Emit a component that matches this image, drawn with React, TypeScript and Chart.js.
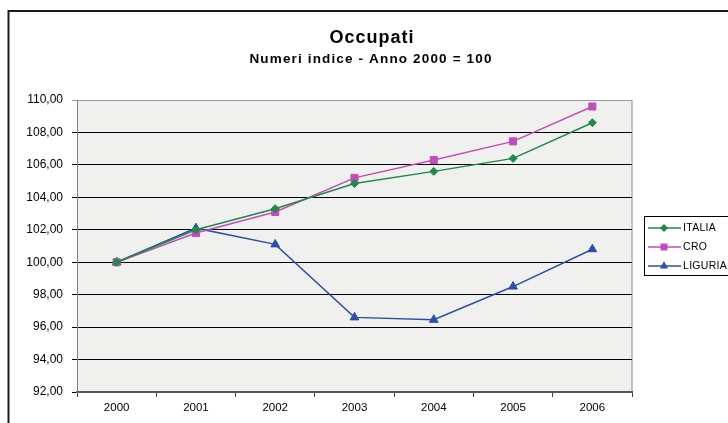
import React, { useEffect, useRef } from "react";
import { Chart, registerables } from "chart.js";

Chart.register(...registerables);

const years = ["2000", "2001", "2002", "2003", "2004", "2005", "2006"];
const italia = [100, 102.0, 103.3, 104.85, 105.6, 106.4, 108.6];
const cro = [100, 101.8, 103.1, 105.2, 106.3, 107.45, 109.6];
const liguria = [100, 102.1, 101.1, 96.6, 96.45, 98.5, 100.8];
const seriesNames = ["ITALIA", "CRO", "LIGURIA"];
const seriesColors = ["#1f8a47", "#c24fb6", "#2e4fa6"];
const seriesMarkers = ["rectRot", "rect", "triangle"];
const titleText = "Occupati";
const subtitleText = "Numeri indice - Anno 2000 = 100";

const FONT = "'Liberation Sans', Arial, sans-serif";

function drawMarker(ctx: CanvasRenderingContext2D, style: string, x: number, y: number, color: string) {
  ctx.save();
  ctx.fillStyle = color;
  ctx.strokeStyle = color;
  ctx.beginPath();
  if (style === "rectRot") {
    const r = 4;
    ctx.moveTo(x, y - r);
    ctx.lineTo(x + r, y);
    ctx.lineTo(x, y + r);
    ctx.lineTo(x - r, y);
  } else if (style === "rect") {
    const h = 3.5;
    ctx.rect(x - h, y - h, 2 * h, 2 * h);
  } else {
    const r = 4.8;
    ctx.moveTo(x, y - r);
    ctx.lineTo(x + r * 0.866, y + r * 0.5);
    ctx.lineTo(x - r * 0.866, y + r * 0.5);
  }
  ctx.closePath();
  ctx.fill();
  ctx.restore();
}

const decorPlugin = {
  id: "decor",
  beforeDraw(chart: any) {
    const { ctx, chartArea } = chart;
    ctx.save();
    ctx.fillStyle = "#ffffff";
    ctx.fillRect(0, 0, chart.width, chart.height);
    // outer frame
    ctx.strokeStyle = "#1a1a1a";
    ctx.lineWidth = 2;
    ctx.strokeRect(8.5, 11, 800, 500);
    // plot background
    ctx.fillStyle = "#f0f0ee";
    ctx.fillRect(chartArea.left, chartArea.top, chartArea.right - chartArea.left, chartArea.bottom - chartArea.top);
    ctx.strokeStyle = "#8c8c8c";
    ctx.lineWidth = 1;
    ctx.strokeRect(chartArea.left + 0.5, chartArea.top + 0.5, chartArea.right - chartArea.left - 0.5, chartArea.bottom - chartArea.top - 0.5);
    // titles
    ctx.fillStyle = "#000";
    ctx.textAlign = "center";
    ctx.textBaseline = "alphabetic";
    ctx.font = `bold 18px ${FONT}`;
    (ctx as any).letterSpacing = "1px";
    ctx.fillText(titleText, 372, 42.5);
    ctx.font = `bold 13.5px ${FONT}`;
    (ctx as any).letterSpacing = "1.15px";
    ctx.fillText(subtitleText, 371, 62.5);
    (ctx as any).letterSpacing = "0px";
    ctx.restore();
  },
  afterDraw(chart: any) {
    const { ctx } = chart;
    ctx.save();
    // legend box
    ctx.strokeStyle = "#000";
    ctx.lineWidth = 1;
    ctx.strokeRect(644.5, 216.5, 100, 59);
    const rows = [228, 247, 266];
    chart.data.datasets.forEach((ds: any, i: number) => {
      const y = rows[i];
      ctx.strokeStyle = ds.borderColor;
      ctx.lineWidth = 1.5;
      ctx.beginPath();
      ctx.moveTo(648, y);
      ctx.lineTo(681, y);
      ctx.stroke();
      drawMarker(ctx, ds.pointStyle, 664, y, ds.borderColor);
      ctx.fillStyle = "#000";
      ctx.font = `10.5px ${FONT}`;
      (ctx as any).letterSpacing = "0.3px";
      ctx.textAlign = "left";
      ctx.textBaseline = "middle";
      ctx.fillText(ds.label, 683, y + 0.5);
      (ctx as any).letterSpacing = "0px";
    });
    ctx.restore();
  },
};

export default function App() {
  const ref = useRef<HTMLCanvasElement | null>(null);
  useEffect(() => {
    if (!ref.current) return;
    const values = [italia, cro, liguria];
    const chart = new Chart(ref.current, {
      type: "line",
      data: {
        labels: years,
        datasets: values.map((v, i) => ({
          label: seriesNames[i],
          data: v,
          borderColor: seriesColors[i],
          backgroundColor: seriesColors[i],
          borderWidth: 1.5,
          pointStyle: seriesMarkers[i] as any,
          pointRadius: i === 1 ? 5 : i === 2 ? 5 : 4,
          pointBorderWidth: 1,
          tension: 0,
          fill: false,
        })),
      },
      options: {
        animation: false,
        responsive: false,
        devicePixelRatio: 1,
        layout: { padding: { left: 0, right: 96, top: 100, bottom: 0 } },
        plugins: {
          legend: { display: false },
          title: { display: false },
          tooltip: { enabled: false },
        },
        scales: {
          x: {
            type: "category",
            offset: true,
            grid: {
              offset: true,
              drawOnChartArea: false,
              drawTicks: true,
              tickLength: 5,
              color: "#404040",
            },
            border: { display: true, color: "#555555", width: 2 },
            ticks: {
              color: "#000",
              font: { family: FONT, size: 11.5 },
              padding: 4,
              maxRotation: 0,
            },
            afterFit: (s: any) => {
              s.height = 31;
            },
          },
          y: {
            min: 92,
            max: 110,
            ticks: {
              stepSize: 2,
              color: "#000",
              font: { family: FONT, size: 12 },
              padding: 9,
              callback: (v: any) => Number(v).toFixed(2).replace(".", ","),
            },
            grid: {
              color: (c: any) => (c.tick && c.tick.value === 110 ? "#9a9a9a" : "#000000"),
              lineWidth: 1,
              drawTicks: true,
              tickLength: 5,
            },
            border: { display: true, color: "#808080", width: 1 },
            afterFit: (s: any) => {
              s.width = 77;
            },
          },
        },
      },
      plugins: [decorPlugin],
    });
    return () => chart.destroy();
  }, []);
  return (
    <div style={{ position: "absolute", left: 0, top: 0, width: 728, height: 423 }}>
      <canvas ref={ref} width={728} height={423} />
    </div>
  );
}
